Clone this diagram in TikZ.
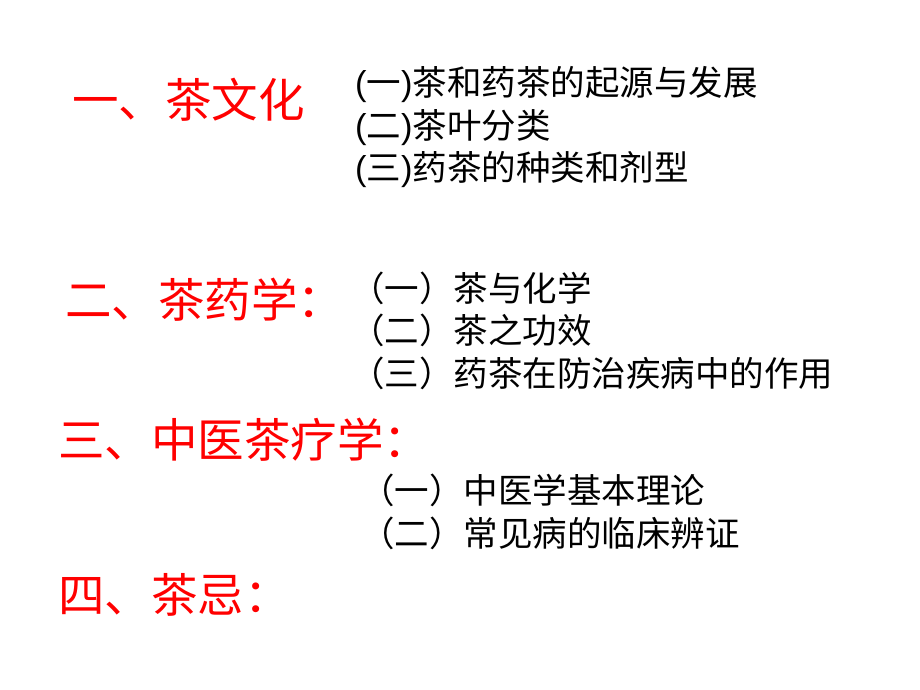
\documentclass[tikz,border=0pt]{standalone}
\usepackage{fontspec}
\newfontfamily\cjk{Noto Sans CJK SC}
\setmainfont{Liberation Sans}
\begin{document}
\begin{tikzpicture}[x=1pt,y=-1pt,
  head/.style={anchor=west,inner sep=0,text=red,font=\cjk\fontsize{46.5}{50}\selectfont},
  item/.style={anchor=west,inner sep=0,text=black,font=\cjk\fontsize{34.5}{38}\selectfont}]
\useasboundingbox[fill=white] (0,0) rectangle (920,690);
\node[head] (h1) at (72,100) {一、茶文化};
\node[item] (a1) at (355,85) {\fontspec{Liberation Sans}(\cjk 一\fontspec{Liberation Sans})\cjk 茶和药茶的起源与发展};
\node[item] (a2) at (355,128) {\fontspec{Liberation Sans}(\cjk 二\fontspec{Liberation Sans})\cjk 茶叶分类};
\node[item] (a3) at (355,170) {\fontspec{Liberation Sans}(\cjk 三\fontspec{Liberation Sans})\cjk 药茶的种类和剂型};
\node[head] (h2) at (65,300) {二、茶药学：};
\node[item] (b1) at (350,288) {（一）茶与化学};
\node[item] (b2) at (350,330) {（二）茶之功效};
\node[item] (b3) at (350,373) {（三）药茶在防治疾病中的作用};
\node[head] (h3) at (58,440) {三、中医茶疗学：};
\node[item] (c1) at (360,490) {（一）中医学基本理论};
\node[item] (c2) at (360,533) {（二）常见病的临床辨证};
\node[head] (h4) at (58,595) {四、茶忌：};
\end{tikzpicture}
\end{document}
